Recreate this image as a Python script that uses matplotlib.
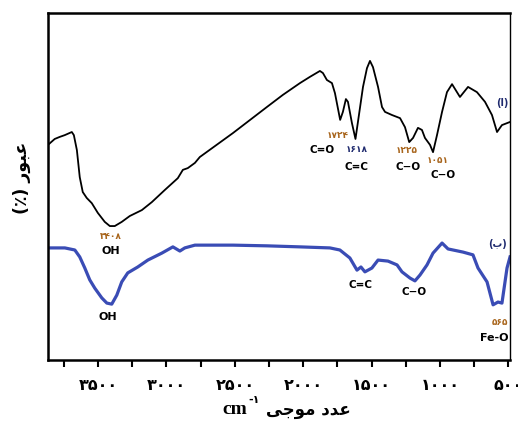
"""
FTIR spectra of the two samples (a) and (b)
"""

import matplotlib
matplotlib.use("Agg")
from matplotlib import pyplot as plt
from matplotlib.ticker import MultipleLocator, FuncFormatter

# curve (a), black
wn_a = [3866, 3817, 3780, 3744, 3692, 3677, 3655, 3634, 3612, 3583, 3546,
        3502, 3451, 3414, 3378, 3327, 3268, 3180, 3107, 3012, 2917, 2880,
        2844, 2792, 2756, 2514, 2266, 2149, 2024, 1951, 1878, 1856, 1827,
        1790, 1768, 1730, 1710, 1688, 1673, 1644, 1618, 1600, 1563, 1534,
        1512, 1490, 1453, 1424, 1402, 1351, 1292, 1256, 1225, 1197, 1161,
        1132, 1110, 1073, 1051, 1022, 985, 949, 912, 876, 854, 795, 730,
        671, 620, 583, 547, 488]
tr_a = [62.0, 63.7, 64.3, 64.8, 65.7, 64.8, 60.5, 52.7, 48.4, 46.7, 45.2,
        42.4, 39.8, 38.6, 38.6, 39.8, 41.5, 43.2, 45.5, 49.0, 52.4, 54.8,
        55.3, 56.8, 58.5, 65.4, 72.9, 76.4, 79.8, 81.6, 83.3, 82.7, 80.7,
        79.8, 76.9, 69.2, 71.5, 75.2, 74.4, 68.3, 63.7, 68.6, 78.7, 84.1,
        86.2, 84.4, 78.7, 72.9, 71.5, 70.6, 69.7, 67.1, 62.8, 64.0, 66.9,
        66.3, 64.0, 62.0, 59.9, 64.8, 71.5, 77.2, 79.5, 77.2, 75.8, 78.7, 77.2,
        74.4, 70.6, 65.7, 67.7, 68.6]

# curve (b), blue
wn_b = [3866, 3743, 3670, 3634, 3597, 3561, 3524, 3473, 3436, 3400, 3363,
        3327, 3283, 3210, 3136, 3034, 2953, 2902, 2866, 2792, 2514, 2266,
        2024, 1805, 1732, 1659, 1607, 1578, 1549, 1498, 1453, 1380, 1314,
        1278, 1219, 1183, 1146, 1095, 1051, 985, 941, 832, 759, 722, 656,
        612, 576, 547, 510, 488]
tr_b = [32.3, 32.3, 31.7, 29.7, 26.5, 23.1, 20.7, 17.9, 16.4, 16.1, 18.7,
        22.5, 25.1, 26.8, 28.8, 30.8, 32.6, 31.4, 32.3, 33.1, 33.1, 32.9,
        32.6, 32.3, 31.7, 29.4, 25.9, 26.8, 25.4, 26.5, 28.8, 28.5, 27.4,
        25.4, 23.6, 22.8, 24.5, 27.4, 30.8, 33.7, 32.0, 31.1, 30.3, 26.5, 22.5,
        15.9, 16.7, 16.4, 26.5, 29.7]

PERSIAN = str.maketrans("0123456789", "۰۱۲۳۴۵۶۷۸۹")

# peak labels: (wavenumber, transmittance, text, colour, size)
labels_a = [
    (1751, 64.8, "1724".translate(PERSIAN), "#a8651c", 6.5),
    (1862, 60.5, "C=O", "black", 7.5),
    (1608, 60.8, "1618".translate(PERSIAN), "#1f2a6e", 6.5),
    (1608, 55.6, "C=C", "black", 7.5),
    (1241, 60.5, "1225".translate(PERSIAN), "#a8651c", 6.5),
    (1234, 55.6, "C−O", "black", 7.5),
    (1015, 57.6, "1051".translate(PERSIAN), "#a8651c", 6.5),
    (978, 53.3, "C−O", "black", 7.5),
    (3408, 35.5, "3408".translate(PERSIAN), "#a8651c", 6.5),
    (3408, 31.5, "OH", "black", 8),
    (548, 74.0, "(ا)", "#1f2a6e", 7),
]
labels_b = [
    (1580, 21.5, "C=C", "black", 7.5),
    (1190, 19.5, "C−O", "black", 7.5),
    (3430, 12.5, "OH", "black", 8),
    (580, 33.5, "(ب)", "#1f2a6e", 7),
    (560, 10.8, "565".translate(PERSIAN), "#a8651c", 6.5),
    (600, 6.3, "Fe-O", "black", 8),
]

fig = plt.figure(figsize=(5.18, 4.28), dpi=100)
ax = fig.add_axes([0.0927, 0.1589, 0.8919, 0.8107])

ax.plot(wn_a, tr_a, color="black", lw=1.3)
ax.plot(wn_b, tr_b, color="#3a4cb5", lw=2.3)

for x, y, txt, c, s in labels_a + labels_b:
    ax.text(x, y, txt, color=c, fontsize=s, fontweight="bold",
            ha="center", va="center", family=["DejaVu Sans"])

ax.set_xlim(3866, 488)
ax.set_ylim(0, 100)
ax.xaxis.set_major_locator(MultipleLocator(500))
ax.xaxis.set_minor_locator(MultipleLocator(250))
ax.xaxis.set_major_formatter(
    FuncFormatter(lambda v, p: str(int(round(v))).translate(PERSIAN)))
ax.tick_params(axis="x", which="both", direction="out", length=5, width=1.5,
               pad=8, labelsize=11.5)
for lab in ax.get_xticklabels():
    lab.set_fontweight("bold")
ax.set_yticks([])

for side in ["left", "bottom", "top"]:
    ax.spines[side].set_linewidth(1.8)
ax.spines["right"].set_linewidth(1.0)

# axis titles, written in visual (presentation) order
fig.text(0.042, 0.585, "(٪) ﺭﻮﺒﻋ", rotation=90, fontsize=12.5,
         fontweight="bold", ha="center", va="center", family=["DejaVu Sans"])
fig.text(0.478, 0.032, "cm", fontsize=14, fontweight="bold", ha="right",
         va="baseline", family=["Liberation Serif"])
fig.text(0.479, 0.058, "-۱", fontsize=8, fontweight="bold", ha="left",
         va="baseline", family=["DejaVu Sans"])
fig.text(0.595, 0.030, "ﻰﺟﻮﻣ ﺩﺪﻋ", fontsize=12, fontweight="bold",
         ha="center", va="baseline", family=["DejaVu Sans"])

fig.savefig("out.png", dpi=100)
